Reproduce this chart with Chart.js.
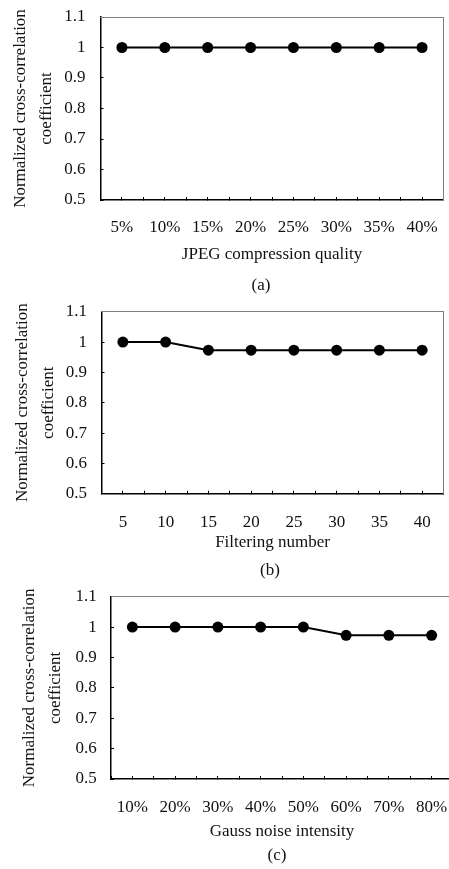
<!DOCTYPE html>
<html>
<head>
<meta charset="utf-8">
<script src="https://cdn.jsdelivr.net/npm/chart.js@4.4.1/dist/chart.umd.min.js"></script>
<style>
  body { margin: 0; width: 449px; height: 869px; overflow: hidden; background: #fff; position: relative; font-family: "Liberation Serif", "Times New Roman", serif; }
  .box { position: absolute; left: 0; }
  .cap { position: absolute; font-size: 17px; color: #111; transform: translate(-50%, -50%); white-space: nowrap; }
</style>
</head>
<body>
<div class="box" style="top:0;width:449px;height:290px"><canvas id="chartA"></canvas></div>
<div class="box" style="top:290px;width:449px;height:290px"><canvas id="chartB"></canvas></div>
<div class="box" style="top:570px;width:460px;height:299px"><canvas id="chartC"></canvas></div>
<div class="cap" style="left:261px;top:285px">(a)</div>
<div class="cap" style="left:270px;top:570px">(b)</div>
<div class="cap" style="left:277px;top:855px">(c)</div>

<script>
// data
const jpegLabels = ["5%", "10%", "15%", "20%", "25%", "30%", "35%", "40%"];
const jpegValues = [1.0, 1.0, 1.0, 1.0, 1.0, 1.0, 1.0, 1.0];

const filterLabels = ["5", "10", "15", "20", "25", "30", "35", "40"];
const filterValues = [1.0, 1.0, 0.973, 0.973, 0.973, 0.973, 0.973, 0.973];

const gaussLabels = ["10%", "20%", "30%", "40%", "50%", "60%", "70%", "80%"];
const gaussValues = [1.0, 1.0, 1.0, 1.0, 1.0, 0.973, 0.973, 0.973];

const yTitle = ["Normalized cross-correlation", "coefficient"];
const yMin = 0.5, yMax = 1.1, yStep = 0.1;

const FONT = '"Liberation Serif", "Times New Roman", serif';
const TEXT = '#111';

function makeChart(id, labels, values, xTitle, g) {
    const ctx = document.getElementById(id).getContext('2d');
    return new Chart(ctx, {
        type: 'line',
        data: {
            datasets: [{
                data: values.map((v, i) => ({ x: i + 1, y: v })),
                borderColor: '#000',
                backgroundColor: '#000',
                borderWidth: 2,
                pointRadius: 5.5,
                pointBorderWidth: 0,
                pointBackgroundColor: '#000',
                tension: 0
            }]
        },
        options: {
            responsive: true,
            maintainAspectRatio: false,
            animation: false,
            layout: { padding: { top: g.padTop, bottom: g.padBottom, left: 0, right: g.padRight } },
            plugins: { legend: { display: false }, tooltip: { enabled: false } },
            scales: {
                x: {
                    type: 'linear',
                    position: 'bottom',
                    min: 0.5,
                    max: labels.length + 0.5,
                    ticks: {
                        stepSize: 0.5, autoSkip: false, maxRotation: 0, padding: g.xPad,
                        font: { family: FONT, size: 17 }, color: TEXT,
                        callback: v => Number.isInteger(v) ? labels[v - 1] : ''
                    },
                    grid: { drawOnChartArea: false, tickLength: -3, color: '#000', lineWidth: 1 },
                    border: { color: '#000', width: 1.5 },
                    title: { display: true, text: xTitle, color: TEXT, font: { family: FONT, size: 17 }, padding: 0 },
                    // fixed axis height, no side padding from tick labels
                    afterFit: s => { s.height = g.xHeight; s.paddingLeft = 0; s.paddingRight = 0; }
                },
                y: {
                    min: yMin,
                    max: yMax,
                    ticks: {
                        stepSize: yStep, padding: g.yPad,
                        font: { family: FONT, size: 17 }, color: TEXT,
                        callback: v => String(parseFloat(v.toFixed(1)))
                    },
                    grid: { drawOnChartArea: false, tickLength: -3, color: '#000', lineWidth: 1 },
                    border: { color: '#000', width: 1.5 },
                    title: { display: true, text: yTitle, color: TEXT, font: { family: FONT, size: 17, lineHeight: 1.53 }, padding: { top: g.yTitleTop, bottom: 0 } },
                    afterFit: s => { s.width = g.yWidth; s.paddingTop = 0; s.paddingBottom = 0; }
                },
                // thin grey frame on top and right
                x2: {
                    type: 'linear', position: 'top', display: true,
                    grid: { display: false, drawTicks: false }, ticks: { display: false },
                    border: { color: '#808080', width: 1 }
                },
                y2: {
                    type: 'linear', position: 'right', display: true,
                    grid: { display: false, drawTicks: false }, ticks: { display: false },
                    border: { color: '#808080', width: 1 }
                }
            }
        }
    });
}

makeChart('chartA', jpegLabels, jpegValues, 'JPEG compression quality',
    { padTop: 17, padBottom: 24.8, padRight: 5, xPad: 20.8, xHeight: 65.2, yPad: 18, yTitleTop: 8, yWidth: 100.5 });
makeChart('chartB', filterLabels, filterValues, 'Filtering number',
    { padTop: 21.7, padBottom: 27.7, padRight: 4, xPad: 21.2, xHeight: 58.6, yPad: 17.5, yTitleTop: 9.5, yWidth: 101.5 });
makeChart('chartC', gaussLabels, gaussValues, 'Gauss noise intensity',
    { padTop: 26.7, padBottom: 27.1, padRight: 7, xPad: 21.1, xHeight: 62.9, yPad: 17.3, yTitleTop: 17, yWidth: 111 });
</script>
</body>
</html>
